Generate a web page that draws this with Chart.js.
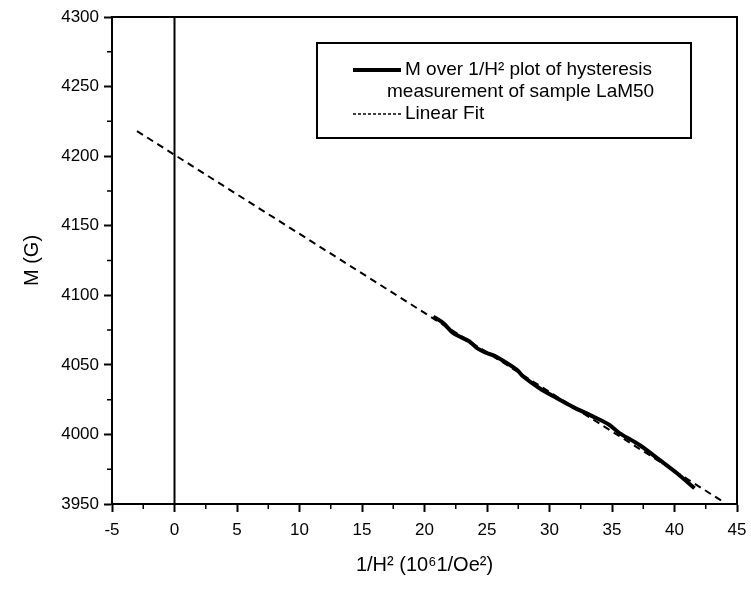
<!DOCTYPE html>
<html>
<head>
<meta charset="utf-8">
<script src="https://cdn.jsdelivr.net/npm/chart.js@4"></script>
<style>
  body { margin: 0; background: #fff; }
  canvas { display: block; }
</style>
</head>
<body>
<canvas id="chart" width="751" height="589"></canvas>
<script>
// measured data: 1/H^2 (10^6 1/Oe^2) vs M (G)
const sampleX = [20.7, 21.5, 22.3, 23.6, 24.2, 25.0, 25.6, 27.4, 27.9, 29.2, 30.6, 31.9, 33.5, 34.8, 35.6, 37.2, 38.8, 40.2, 41.6];
const sampleM = [4084.7, 4080, 4072.8, 4066.8, 4062, 4058.4, 4056.5, 4046.4, 4041.6, 4033.2, 4026, 4019.6, 4012.8, 4006.8, 4000.9, 3992.4, 3981.7, 3972.1, 3961.3];

// linear fit end points
const fitX = [-3, 44];
const fitM = [4218, 3951];

// zero marker line
const zeroX = [0, 0];
const zeroM = [3950, 4300];

const xRange = [-5, 45];
const yRange = [3950, 4300];

const legendLines = [
    'M over 1/H\u00B2 plot of hysteresis',
    'measurement of sample LaM50',
    'Linear Fit'
];

const FONT = '"Liberation Sans", Arial, Helvetica, sans-serif';

function toPoints(xs, ys) {
    return xs.map((x, i) => ({ x, y: ys[i] }));
}

// minor ticks, frame and the boxed legend
const decorations = {
    id: 'decorations',
    afterDraw(chart) {
        const ctx = chart.ctx;
        const { left, right, top, bottom } = chart.chartArea;
        const xs = chart.scales.x, ys = chart.scales.y;
        ctx.save();
        ctx.strokeStyle = '#000';

        // minor ticks
        ctx.lineWidth = 1.5;
        ctx.beginPath();
        for (let v = xRange[0] + 2.5; v < xRange[1]; v += 5) {
            const px = xs.getPixelForValue(v);
            ctx.moveTo(px, bottom);
            ctx.lineTo(px, bottom + 5);
        }
        for (let v = yRange[0] + 25; v < yRange[1]; v += 50) {
            const py = ys.getPixelForValue(v);
            ctx.moveTo(left, py);
            ctx.lineTo(left - 5, py);
        }
        ctx.stroke();

        // top and right frame
        ctx.lineWidth = 2;
        ctx.beginPath();
        ctx.moveTo(left, top);
        ctx.lineTo(right, top);
        ctx.lineTo(right, bottom);
        ctx.stroke();

        // legend
        ctx.strokeRect(317, 43, 374, 95);
        ctx.font = '19px ' + FONT;
        ctx.fillStyle = '#000';
        ctx.textBaseline = 'middle';

        ctx.lineWidth = 4;
        ctx.beginPath();
        ctx.moveTo(353, 70);
        ctx.lineTo(401, 70);
        ctx.stroke();
        ctx.fillText(legendLines[0], 405, 70);
        ctx.fillText(legendLines[1], 387, 92);

        ctx.lineWidth = 1.5;
        ctx.setLineDash([3, 2]);
        ctx.beginPath();
        ctx.moveTo(353, 114);
        ctx.lineTo(401, 114);
        ctx.stroke();
        ctx.setLineDash([]);
        ctx.fillText(legendLines[2], 405, 114);

        ctx.restore();
    }
};

const ctx = document.getElementById('chart').getContext('2d');
new Chart(ctx, {
    type: 'scatter',
    data: {
        datasets: [
            {
                label: legendLines[0] + ' ' + legendLines[1],
                data: toPoints(sampleX, sampleM),
                showLine: true,
                borderColor: '#000',
                borderWidth: 4,
                pointRadius: 0,
                tension: 0.3
            },
            {
                label: legendLines[2],
                data: toPoints(fitX, fitM),
                showLine: true,
                borderColor: '#000',
                borderWidth: 2,
                borderDash: [7, 5],
                pointRadius: 0
            },
            {
                label: 'zero',
                data: toPoints(zeroX, zeroM),
                showLine: true,
                borderColor: '#000',
                borderWidth: 2,
                pointRadius: 0
            }
        ]
    },
    options: {
        responsive: false,
        animation: false,
        layout: { padding: { left: 0, right: 14, top: 17, bottom: 0 } },
        plugins: {
            legend: { display: false },
            tooltip: { enabled: false }
        },
        scales: {
            x: {
                type: 'linear',
                min: xRange[0],
                max: xRange[1],
                ticks: {
                    stepSize: 5,
                    color: '#000',
                    font: { family: FONT, size: 17 },
                    padding: 8,
                    maxRotation: 0,
                    callback: v => String(v)
                },
                grid: {
                    drawOnChartArea: false,
                    drawTicks: true,
                    tickLength: 8,
                    tickWidth: 2,
                    tickColor: '#000'
                },
                border: { color: '#000', width: 2 },
                title: {
                    display: true,
                    text: '1/H\u00B2 (10\u20761/Oe\u00B2)',
                    color: '#000',
                    font: { family: FONT, size: 20 },
                    padding: { top: 10, bottom: 12 }
                },
                afterFit(scale) {
                    scale.height = 85;
                    scale.paddingLeft = 0;
                    scale.paddingRight = 0;
                }
            },
            y: {
                type: 'linear',
                min: yRange[0],
                max: yRange[1],
                ticks: {
                    stepSize: 50,
                    color: '#000',
                    font: { family: FONT, size: 17 },
                    padding: 5,
                    callback: v => String(v)
                },
                grid: {
                    drawOnChartArea: false,
                    drawTicks: true,
                    tickLength: 8,
                    tickWidth: 2,
                    tickColor: '#000'
                },
                border: { color: '#000', width: 2 },
                title: {
                    display: true,
                    text: 'M (G)',
                    color: '#000',
                    font: { family: FONT, size: 20 },
                    padding: { top: 20, bottom: 10 }
                },
                afterFit(scale) { scale.width = 112; }
            }
        }
    },
    plugins: [decorations]
});
</script>
</body>
</html>
